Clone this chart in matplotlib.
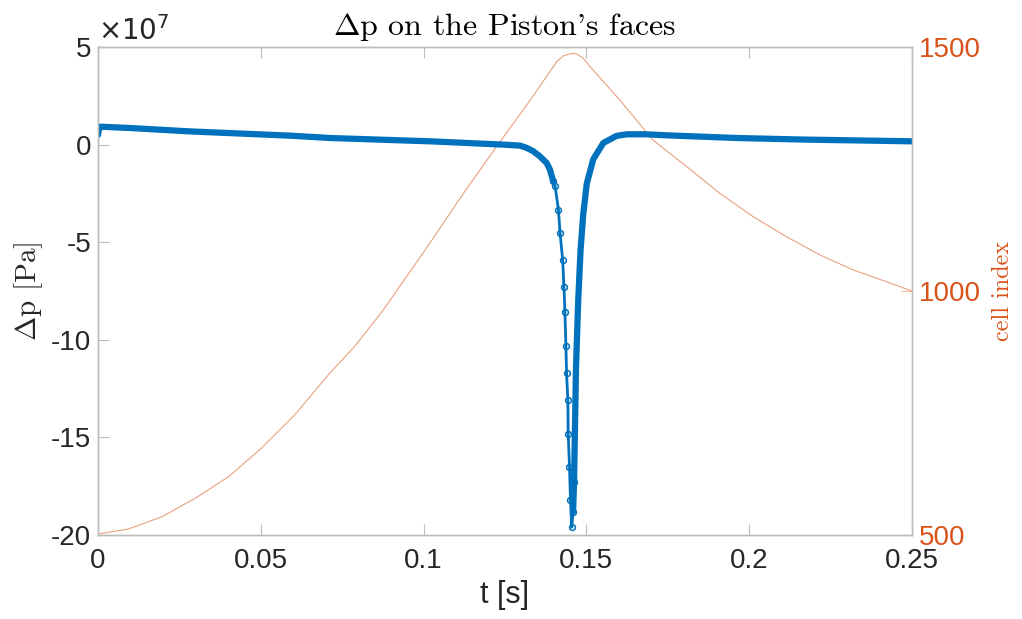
import numpy as np
import matplotlib.pyplot as plt

plt.rcParams['axes.unicode_minus'] = False

# pressure difference on piston faces, in units of 1e7 Pa
t_dp = [0.0, 0.0003, 0.0008, 0.01, 0.028, 0.059, 0.0713, 0.102, 0.1245, 0.1296, 0.1317,
        0.1337, 0.1357, 0.1378, 0.1388, 0.1398, 0.1404, 0.1414, 0.1419, 0.1427,
        0.1431, 0.1434, 0.1437, 0.1439, 0.1443, 0.1444, 0.1448, 0.1451, 0.1455,
        0.1459, 0.1462, 0.1468, 0.1475, 0.1482, 0.149, 0.1501, 0.1521, 0.1552,
        0.1593, 0.1624, 0.168, 0.1757, 0.1961, 0.2166, 0.25]
dp = [0.5, 0.8, 0.92, 0.85, 0.68, 0.46, 0.34, 0.17, 0.0, -0.05, -0.17,
      -0.34, -0.6, -0.94, -1.28, -1.88, -2.14, -3.33, -4.53, -5.9,
      -7.3, -8.6, -10.3, -11.7, -13.1, -14.8, -16.5, -18.2, -19.6,
      -18.8, -17.3, -11.4, -7.9, -5.4, -3.6, -2.0, -0.75, 0.09,
      0.45, 0.53, 0.53, 0.47, 0.34, 0.26, 0.17]

# cell index of the piston
t_cell = [0.0, 0.0092, 0.0195, 0.0298, 0.040, 0.0502, 0.0604, 0.0707, 0.0789, 0.0876,
          0.1019, 0.1122, 0.1224, 0.1327, 0.1409, 0.1429, 0.1455, 0.147, 0.149,
          0.1511, 0.1603, 0.1705, 0.1808, 0.191, 0.2013, 0.2115, 0.2217, 0.232,
          0.2422, 0.25]
cell = [502, 512, 537, 575, 619, 678, 746, 828, 887, 961,
        1098, 1200, 1296, 1391, 1470, 1482, 1487, 1486, 1477,
        1460, 1391, 1309, 1255, 1200, 1152, 1111, 1074, 1043,
        1019, 1000]

xticks = [0, 0.05, 0.1, 0.15, 0.2, 0.25]
xticklabels = ['0', '0.05', '0.1', '0.15', '0.2', '0.25']
yticks = [-20, -15, -10, -5, 0, 5]
cticks = [500, 1000, 1500]

blue = '#0072BD'
orange = '#D95319'
grey = '#bcbcbc'
txt = '#262626'
sans = 'Liberation Sans'

fig = plt.figure(figsize=(10.22, 6.19), dpi=100)
ax = fig.add_axes([0.0959, 0.1357, 0.7965, 0.7883])
ax2 = ax.twinx()
ax.set_zorder(2)
ax.patch.set_visible(False)

t_dp = np.array(t_dp)
dp = np.array(dp)
# dense parts drawn as a thick band, the steep fall as open circles
m1 = t_dp <= 0.1398
m2 = (t_dp >= 0.1398) & (t_dp <= 0.1462)
m3 = t_dp >= 0.1459
ax.plot(t_dp[m1], dp[m1], color=blue, lw=4.5, solid_capstyle='round',
        solid_joinstyle='round')
ax.plot(t_dp[m2], dp[m2], color=blue, lw=2.0, marker='o', ms=4.2,
        mfc='none', mew=1.1)
ax.plot(t_dp[m3], dp[m3], color=blue, lw=4.5, solid_capstyle='round',
        solid_joinstyle='round')

ax2.plot(t_cell, cell, color=orange, lw=0.8, alpha=0.55)

ax.set_xlim(0, 0.25)
ax.set_ylim(-20, 5)
ax2.set_ylim(500, 1500)

ax.set_xticks(xticks)
ax.set_xticklabels(xticklabels)
ax.set_yticks(yticks)
ax2.set_yticks(cticks)

for a in (ax, ax2):
    for s in a.spines.values():
        s.set_color(grey)
        s.set_linewidth(1.0)
ax2.spines['right'].set_color('#f0b89c')

ax.tick_params(axis='both', direction='in', length=8, width=0.8, color=grey,
               labelcolor=txt, labelsize=20, top=True, pad=5)
ax.tick_params(axis='x', pad=9)
ax.tick_params(axis='y', right=False)
ax2.tick_params(axis='y', direction='in', length=8, width=0.8, color='#f0b89c',
                labelcolor=orange, labelsize=20, pad=5)
for lab in ax.get_xticklabels() + ax.get_yticklabels() + ax2.get_yticklabels():
    lab.set_fontfamily(sans)

ax.set_xlabel('t [s]', fontsize=22, fontfamily=sans, color=txt, labelpad=5)
ax.set_ylabel(r'$\Delta$p [Pa]', fontsize=21, fontfamily='cmr10',
              math_fontfamily='cm', color=txt, labelpad=4)
ax2.set_ylabel('cell index', fontsize=17.5, fontfamily='cmr10', color=orange,
               labelpad=8)
ax.set_title(r"$\Delta$p on the Piston's faces", fontsize=23,
             fontfamily='cmr10', math_fontfamily='cm', color='black', pad=9)
ax.text(0.0, 1.003, r'$\times10^{7}$', transform=ax.transAxes, fontsize=20,
        math_fontfamily='dejavusans', color=txt, ha='left', va='bottom')

fig.savefig('out.png', dpi=100)
